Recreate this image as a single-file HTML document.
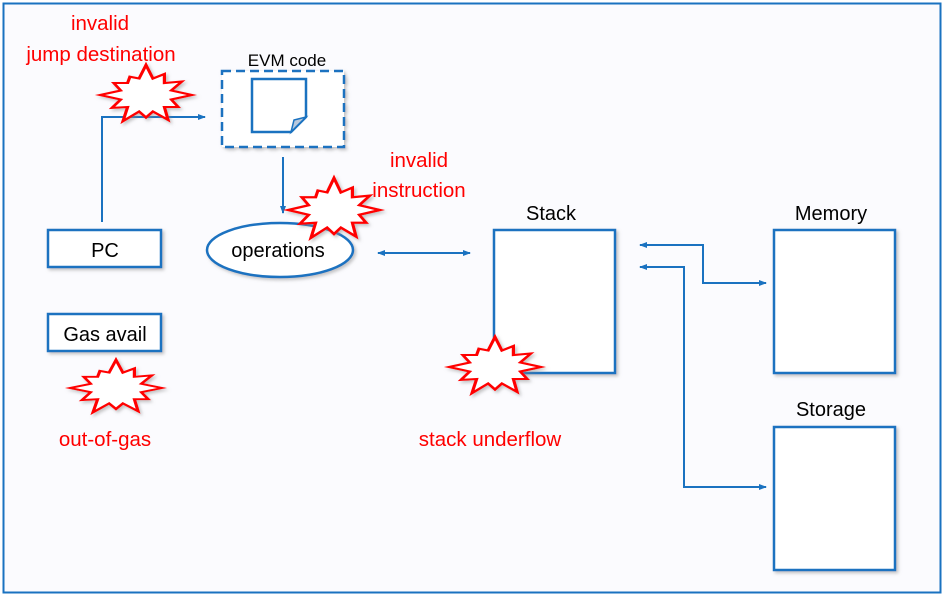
<!DOCTYPE html>
<html><head><meta charset="utf-8"><style>
html,body{margin:0;padding:0;background:#fff;}
svg{display:block;}
text{font-family:"Liberation Sans",Arial,sans-serif;}
</style></head><body>
<svg width="946" height="599" viewBox="0 0 946 599" xmlns="http://www.w3.org/2000/svg">
<defs>
<marker id="ah" markerWidth="8" markerHeight="8" refX="7" refY="4" orient="auto" markerUnits="userSpaceOnUse">
<path d="M0,1 L8,4 L0,7 Z" fill="#1a72c0"/></marker>
<marker id="as" markerWidth="8" markerHeight="8" refX="1" refY="4" orient="auto" markerUnits="userSpaceOnUse">
<path d="M8,1 L0,4 L8,7 Z" fill="#1a72c0"/></marker>
<filter id="sh" x="-10%" y="-10%" width="130%" height="130%"><feDropShadow dx="2" dy="2" stdDeviation="1.5" flood-color="#888" flood-opacity="0.5"/></filter>
<polygon id="star" points="1,0 .55,.15 .70,.40 .40,.40 .48,.83 .15,.55 0,.75 -.15,.55 -.5,.87 -.40,.40 -.74,.43 -.55,.15 -1,0 -.55,-.15 -.70,-.40 -.40,-.40 -.35,-.61 -.15,-.55 0,-1 .15,-.55 .4,-.70 .40,-.40 .78,-.45 .55,-.15"/>
</defs>
<rect x="0" y="0" width="946" height="599" fill="#fff"/>
<rect x="3.5" y="3.5" width="937" height="589" fill="#fbfbfe" stroke="#1a72c0" stroke-width="2"/>

<g fill="#fff" stroke="#1a72c0" stroke-width="2.5" filter="url(#sh)">
<rect x="48" y="230" width="113" height="37"/>
<rect x="48" y="314" width="113" height="37"/>
<rect x="494" y="230" width="121" height="143"/>
<rect x="774" y="230" width="121" height="143"/>
<rect x="774" y="427" width="121" height="143"/>
<ellipse cx="280" cy="250" rx="73" ry="27"/>
<rect x="222" y="71" width="122" height="76" stroke-dasharray="9,5"/>
</g>
<path d="M252,79 H306 V117 L291,132 H252 Z" fill="#fff" stroke="#1a72c0" stroke-width="2.5"/>
<path d="M291,132 L294,120 L306,117 Z" fill="#b8c8dc" stroke="#1a72c0" stroke-width="1.5"/>

<g fill="none" stroke="#1a72c0" stroke-width="2">
<path d="M102,222 V117 H205" marker-end="url(#ah)"/>
<path d="M283,157 V213" marker-end="url(#ah)"/>
<path d="M378,253 H470" marker-start="url(#as)" marker-end="url(#ah)"/>
<path d="M640,245 H703 V283 H766" marker-start="url(#as)" marker-end="url(#ah)"/>
<path d="M640,267 H684 V487 H766" marker-start="url(#as)" marker-end="url(#ah)"/>
</g>

<g fill="#fff" stroke="#ff0000" filter="url(#sh)">
<use href="#star" transform="translate(146,95) scale(46,30)" style="stroke-width:0.07"/>
<use href="#star" transform="translate(334,210) scale(46,32)" style="stroke-width:0.07"/>
<use href="#star" transform="translate(495,367) scale(46,30)" style="stroke-width:0.07"/>
<use href="#star" transform="translate(116,388) scale(46,28)" style="stroke-width:0.07"/>
</g>

<g font-size="20" fill="#000" text-anchor="middle">
<text x="105" y="257">PC</text>
<text x="105" y="341">Gas avail</text>
<text x="278" y="257">operations</text>
<text x="551" y="220">Stack</text>
<text x="831" y="220">Memory</text>
<text x="831" y="416">Storage</text>
<text x="287" y="66" font-size="17">EVM code</text>
</g>
<g font-size="20.5" fill="#ff0000" text-anchor="middle">
<text x="100" y="30">invalid</text>
<text x="101" y="61">jump destination</text>
<text x="419" y="167">invalid</text>
<text x="419" y="197">instruction</text>
<text x="105" y="446">out-of-gas</text>
<text x="490" y="446">stack underflow</text>
</g>
</svg>
</body></html>
